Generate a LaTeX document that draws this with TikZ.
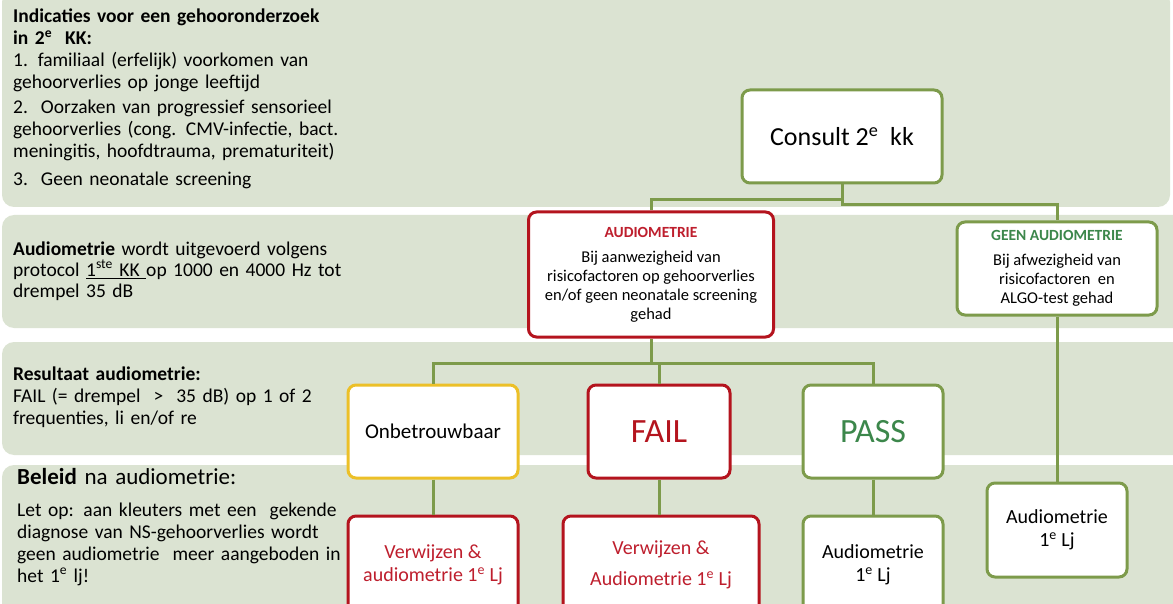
\documentclass[tikz,border=0pt]{standalone}
\usepackage{fontspec}
\setmainfont{Carlito}
\definecolor{bandc}{RGB}{219,227,210}
\definecolor{greenc}{RGB}{125,155,75}
\definecolor{redc}{RGB}{180,20,30}
\definecolor{yellowc}{RGB}{236,192,40}
\definecolor{redt}{RGB}{190,30,45}
\definecolor{greent}{RGB}{60,135,75}
\tikzset{
  band/.style={fill=bandc, draw=none, rounded corners=12pt},
  gbox/.style={draw=greenc, line width=3pt, fill=white, rounded corners=8pt, align=center, inner sep=0pt},
  rbox/.style={gbox, draw=redc},
  ybox/.style={gbox, draw=yellowc},
  conn/.style={draw=greenc, line width=3pt},
  lefttext/.style={anchor=base west, align=left, inner sep=0pt, text width=360pt, font=\fontsize{19.5}{22}\selectfont},
}
\begin{document}
\begin{tikzpicture}[x=1pt,y=-1pt]
\useasboundingbox (0,0) rectangle (1173,604);
% bands
\fill[band] (2,-10) rectangle (1170,207);
\fill[band] (2,215) rectangle (1190,328);
\fill[band] (2,342) rectangle (1190,455);
\fill[band] (2,465) rectangle (1190,630);

% left texts
\node[lefttext] (t1) at (13,23) {\textbf{Indicaties voor een gehooronderzoek}\\
\textbf{in 2\textsuperscript{e}\ \ KK:}\\
1. familiaal (erfelijk) voorkomen\ van\\
gehoorverlies op jonge leeftijd\\[3pt]
2.\ \ Oorzaken van progressief sensorieel\\
gehoorverlies (cong. CMV-infectie, bact.\\
meningitis, hoofdtrauma,\ prematuriteit)\\[6pt]
3.\ \ Geen neonatale screening};
\node[lefttext, font=\fontsize{19.5}{21.5}\selectfont] (t2) at (13,255) {\textbf{Audiometrie} wordt uitgevoerd volgens\\
protocol \underline{1\textsuperscript{ste} KK }op 1000 en 4000 Hz tot\\
drempel 35 dB};
\node[lefttext] (t3) at (13,380) {\textbf{Resultaat audiometrie:}\\
FAIL (= drempel\ \ \textgreater\ \ 35 dB) op 1 of 2\\
frequenties, li en/of re};
\node[lefttext, font=\fontsize{23}{26}\selectfont] (t4) at (17,484) {\textbf{Beleid} na audiometrie:};
\node[lefttext, font=\fontsize{19.5}{22}\selectfont] (t5) at (17,516) {Let op: aan kleuters met een\ \ gekende\\
diagnose van NS-gehoorverlies wordt\\
geen audiometrie\ \ meer aangeboden in\\
het 1\textsuperscript{e} lj!};

% boxes
\node[gbox, minimum width=200pt, minimum height=93pt, font=\fontsize{26}{30}\selectfont] (consult) at (842,136.5) {Consult 2\textsuperscript{e}\ \ kk};
\node[rbox, minimum width=245pt, minimum height=125pt, font=\fontsize{16.5}{19}\selectfont] (aud) at (651,274.5) {\textcolor{redt}{\fontsize{15.5}{19}\selectfont\textbf{AUDIOMETRIE}}\\[6pt]
Bij aanwezigheid van\\ risicofactoren op gehoorverlies\\ en/of geen neonatale screening\\ gehad};
\node[gbox, minimum width=200pt, minimum height=93pt, font=\fontsize{16.5}{19}\selectfont] (geen) at (1057,268.5) {\textcolor{greent}{\fontsize{15.5}{19}\selectfont\textbf{GEEN\ AUDIOMETRIE}}\\[6pt]
Bij afwezigheid van\\ risicofactoren\ \ en\\ ALGO-test\ gehad};

\node[ybox, minimum width=170pt, minimum height=93pt, font=\fontsize{21}{24}\selectfont] (onbet) at (433,431.5) {Onbetrouwbaar};
\node[rbox, minimum width=142pt, minimum height=93pt, font=\fontsize{34}{36}\selectfont, text=redc] (fail) at (659,431.5) {FAIL};
\node[gbox, minimum width=140pt, minimum height=93pt, font=\fontsize{34}{36}\selectfont, text=greent] (pass) at (873,431.5) {PASS};

\node[rbox, minimum width=170pt, minimum height=98pt, font=\fontsize{20}{23}\selectfont, text=redt] (onbet2) at (433,565) {Verwijzen \&\\ audiometrie 1\textsuperscript{e} Lj};
\node[rbox, minimum width=196pt, minimum height=98pt, font=\fontsize{20}{23}\selectfont, text=redt] (fail2) at (661,565) {Verwijzen \&\\[8pt] Audiometrie 1\textsuperscript{e} Lj};
\node[gbox, minimum width=140pt, minimum height=98pt, font=\fontsize{20}{23}\selectfont] (pass2) at (873,565) {Audiometrie\\ 1\textsuperscript{e} Lj};
\node[gbox, minimum width=140pt, minimum height=94pt, font=\fontsize{20}{23}\selectfont] (aud3) at (1057,530) {Audiometrie\\ 1\textsuperscript{e} Lj};

% connectors
\draw[conn] (consult.south) -- ++(0,15) -| (aud.north);
\draw[conn] (consult.south) -- ++(0,20) -| (geen.north);
\coordinate (split) at ([yshift=-25pt]aud.south);
\draw[conn] (aud.south) -- (split);
\draw[conn] (onbet.north) |- (split) -| (pass.north);
\draw[conn] (fail.north) -- (fail.north |- split);
\draw[conn] (onbet.south) -- (onbet2.north);
\draw[conn] (fail.south) -- (fail.south |- fail2.north);
\draw[conn] (pass.south) -- (pass2.north);
\draw[conn] (geen.south) -- (aud3.north);
\end{tikzpicture}
\end{document}
